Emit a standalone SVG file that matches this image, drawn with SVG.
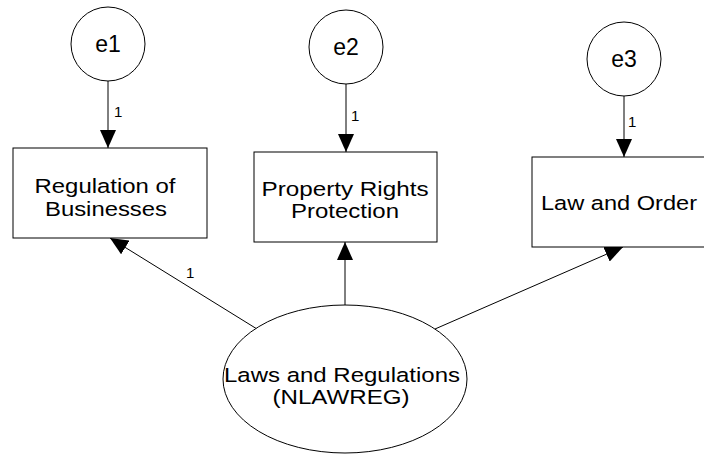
<svg xmlns="http://www.w3.org/2000/svg" width="704" height="455" viewBox="0 0 704 455">
  <style>
    .shape { fill: #ffffff; stroke: #000000; stroke-width: 1; }
    .edge { fill: none; stroke: #000000; stroke-width: 1; }
    .lbl { font-family: "Liberation Sans", Arial, sans-serif; font-size: 20.5px; fill: #000000; text-anchor: middle; }
    .err { font-family: "Liberation Sans", Arial, sans-serif; font-size: 23px; fill: #000000; text-anchor: middle; }
    .wt { font-family: "Liberation Sans", Arial, sans-serif; font-size: 15px; fill: #000000; }
  </style>
  <defs>
    <marker id="arrow" markerUnits="userSpaceOnUse" markerWidth="18" markerHeight="16" refX="18" refY="8" orient="auto">
      <path d="M0,0 L18,8 L0,16 Z" fill="#000000"/>
    </marker>
  </defs>

  <!-- paths -->
  <g id="connectors">
    <line class="edge" x1="108" y1="81" x2="108" y2="148" marker-end="url(#arrow)"/>
    <line class="edge" x1="346" y1="84" x2="346" y2="152" marker-end="url(#arrow)"/>
    <line class="edge" x1="624" y1="96" x2="624" y2="157" marker-end="url(#arrow)"/>
    <line class="edge" x1="257" y1="329" x2="110" y2="238" marker-end="url(#arrow)"/>
    <line class="edge" x1="345" y1="305" x2="345" y2="242" marker-end="url(#arrow)"/>
    <line class="edge" x1="435" y1="329" x2="623" y2="247" marker-end="url(#arrow)"/>
    <text class="wt" x="114" y="117">1</text>
    <text class="wt" x="351" y="121">1</text>
    <text class="wt" x="628" y="127">1</text>
    <text class="wt" x="186" y="278">1</text>
  </g>

  <!-- error terms -->
  <g id="e1">
    <circle class="shape" cx="108" cy="44" r="37"/>
    <text class="err" x="108" y="52">e1</text>
  </g>
  <g id="e2">
    <circle class="shape" cx="346" cy="47" r="37"/>
    <text class="err" x="346" y="55">e2</text>
  </g>
  <g id="e3">
    <circle class="shape" cx="624" cy="59" r="37"/>
    <text class="err" x="624" y="67">e3</text>
  </g>

  <!-- observed indicators -->
  <g id="regulation">
    <rect class="shape" x="13" y="148" width="194" height="90"/>
    <text class="lbl" x="105" y="192.5" textLength="141" lengthAdjust="spacingAndGlyphs">Regulation of</text>
    <text class="lbl" x="106" y="215.5" textLength="122" lengthAdjust="spacingAndGlyphs">Businesses</text>
  </g>
  <g id="property">
    <rect class="shape" x="254" y="152" width="183" height="90"/>
    <text class="lbl" x="345" y="195.5" textLength="167" lengthAdjust="spacingAndGlyphs">Property Rights</text>
    <text class="lbl" x="345" y="218" textLength="108" lengthAdjust="spacingAndGlyphs">Protection</text>
  </g>
  <g id="laworder">
    <rect class="shape" x="532" y="157" width="180" height="90"/>
    <text class="lbl" x="619" y="210" textLength="156" lengthAdjust="spacingAndGlyphs">Law and Order</text>
  </g>

  <!-- latent factor -->
  <g id="nlawreg">
    <ellipse class="shape" cx="345" cy="379" rx="122" ry="74"/>
    <text class="lbl" x="342" y="381.5" textLength="236" lengthAdjust="spacingAndGlyphs">Laws and Regulations</text>
    <text class="lbl" x="341" y="404" textLength="137" lengthAdjust="spacingAndGlyphs">(NLAWREG)</text>
  </g>
</svg>
